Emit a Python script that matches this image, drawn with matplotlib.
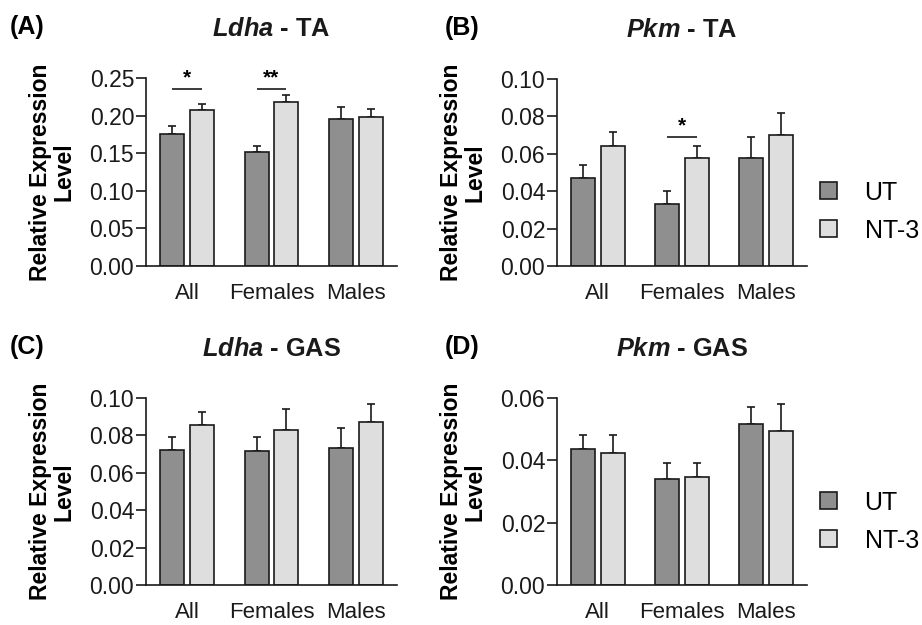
import numpy as np
import matplotlib
matplotlib.use('Agg')
import matplotlib.pyplot as plt
from matplotlib.patches import Patch

plt.rcParams['font.family'] = 'Liberation Sans'
plt.rcParams['mathtext.fontset'] = 'custom'
plt.rcParams['mathtext.it'] = 'Liberation Sans:italic:bold'
plt.rcParams['mathtext.rm'] = 'Liberation Sans:bold'

groups = ['All', 'Females', 'Males']

ldha_ta_ut = [0.175, 0.151, 0.196]
ldha_ta_ut_err = [0.011, 0.008, 0.015]
ldha_ta_nt3 = [0.207, 0.218, 0.198]
ldha_ta_nt3_err = [0.008, 0.009, 0.011]

pkm_ta_ut = [0.047, 0.033, 0.058]
pkm_ta_ut_err = [0.007, 0.007, 0.011]
pkm_ta_nt3 = [0.064, 0.058, 0.070]
pkm_ta_nt3_err = [0.0075, 0.006, 0.012]

ldha_gas_ut = [0.072, 0.0715, 0.073]
ldha_gas_ut_err = [0.007, 0.0075, 0.011]
ldha_gas_nt3 = [0.0855, 0.083, 0.087]
ldha_gas_nt3_err = [0.007, 0.011, 0.010]

pkm_gas_ut = [0.0435, 0.034, 0.0515]
pkm_gas_ut_err = [0.0045, 0.005, 0.0055]
pkm_gas_nt3 = [0.0425, 0.0345, 0.0495]
pkm_gas_nt3_err = [0.0055, 0.0045, 0.0085]

# (group index, stars, line height)
sig_ldha_ta = [(0, '*', 0.236), (1, '**', 0.236)]
sig_pkm_ta = [(1, '*', 0.069)]

UT_COLOR = '#8f8f8f'
NT3_COLOR = '#dedede'
EDGE = '#1a1a1a'
W = 0.284
OFF = 0.175

fig = plt.figure(figsize=(9.22, 6.25), dpi=100)

# axes rectangle from pixel box (left, top, right, bottom)
px = lambda x0, y0, x1, y1: [x0 / 922, 1 - y1 / 625, (x1 - x0) / 922, (y1 - y0) / 625]

panels = [
    ('(A)', r'$Ldha$ - TA', px(146, 78, 397, 266), ldha_ta_ut, ldha_ta_ut_err,
     ldha_ta_nt3, ldha_ta_nt3_err, 0.25, 0.05, sig_ldha_ta, None),
    ('(B)', r'$Pkm$ - TA', px(557, 79, 807, 266), pkm_ta_ut, pkm_ta_ut_err,
     pkm_ta_nt3, pkm_ta_nt3_err, 0.10, 0.02, sig_pkm_ta, 211.5),
    ('(C)', r'$Ldha$ - GAS', px(146, 398, 397, 585), ldha_gas_ut, ldha_gas_ut_err,
     ldha_gas_nt3, ldha_gas_nt3_err, 0.10, 0.02, [], None),
    ('(D)', r'$Pkm$ - GAS', px(557, 398, 807, 585), pkm_gas_ut, pkm_gas_ut_err,
     pkm_gas_nt3, pkm_gas_nt3_err, 0.06, 0.02, [], 521.5),
]

x = np.arange(len(groups))
for letter, title, rect, ut, ut_err, nt, nt_err, ymax, step, sigs, leg_y in panels:
    ax = fig.add_axes(rect)
    ax.bar(x - OFF, ut, W, color=UT_COLOR, edgecolor=EDGE, linewidth=1.2, zorder=2)
    ax.bar(x + OFF, nt, W, color=NT3_COLOR, edgecolor=EDGE, linewidth=1.2, zorder=2)
    ax.errorbar(x - OFF, ut, yerr=[np.zeros(3), ut_err], fmt='none', ecolor=EDGE,
                elinewidth=1.2, capsize=3, capthick=1.2, zorder=1)
    ax.errorbar(x + OFF, nt, yerr=[np.zeros(3), nt_err], fmt='none', ecolor=EDGE,
                elinewidth=1.2, capsize=3, capthick=1.2, zorder=1)

    for gi, stars, yl in sigs:
        ax.hlines(yl, gi - OFF, gi + OFF, color=EDGE, linewidth=1.2, clip_on=False)
        ax.annotate(stars, (gi, yl), xytext=(0, 1), textcoords='offset points',
                    ha='center', va='bottom', fontsize=15, fontweight='bold')

    ax.set_xlim(-0.485, 2.485)
    ax.set_ylim(0, ymax)
    ax.set_yticks(np.arange(0, ymax + step / 2, step))
    ax.yaxis.set_major_formatter(matplotlib.ticker.FormatStrFormatter('%.2f'))
    ax.set_xticks(x)
    ax.set_xticklabels(groups)
    ax.tick_params(axis='x', length=0, pad=12, labelsize=16, colors=EDGE)
    ax.tick_params(axis='y', length=7, width=1.2, pad=1.5, labelsize=16.5, colors=EDGE)
    for s in ['top', 'right']:
        ax.spines[s].set_visible(False)
    for s in ['left', 'bottom']:
        ax.spines[s].set_linewidth(1.2)
        ax.spines[s].set_color(EDGE)
    ax.set_ylabel('Relative Expression\nLevel', fontsize=16.5, fontweight='bold',
                  labelpad=10, linespacing=1.05)

    ax.text(0.5, 1 + 49 / (rect[3] * 625), title, transform=ax.transAxes,
            ha='center', va='center', fontsize=18.3, fontweight='bold', color=EDGE)

    fx = 10 / 922 if letter in ('(A)', '(C)') else 445 / 922
    fy = rect[1] + rect[3] + 51 / 625
    fig.text(fx, fy, letter, fontsize=18, fontweight='bold', va='center', ha='left')

    if leg_y is not None:
        handles = [Patch(facecolor=UT_COLOR, edgecolor=EDGE, linewidth=1.2),
                   Patch(facecolor=NT3_COLOR, edgecolor=EDGE, linewidth=1.2)]
        ax.legend(handles, ['UT', 'NT-3'], loc='center left',
                  bbox_to_anchor=(820 / 922, 1 - leg_y / 625),
                  bbox_transform=fig.transFigure, frameon=False, fontsize=18,
                  handlelength=0.68, handleheight=0.68, handletextpad=1.1,
                  labelspacing=0.56, borderpad=0, borderaxespad=0)

fig.savefig('out.png', dpi=100)
